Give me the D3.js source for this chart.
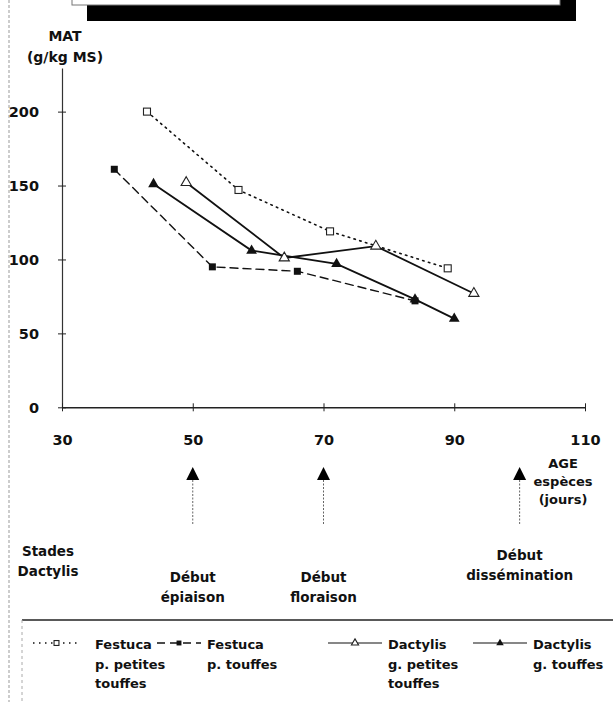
<!DOCTYPE html>
<html><head><meta charset="utf-8">
<script src="https://cdn.jsdelivr.net/npm/d3@7"></script>
<style>
html,body{margin:0;padding:0;background:#fff;}
svg text{font-family:"DejaVu Sans",sans-serif;font-weight:bold;fill:#111;}
</style></head>
<body><svg id="c" width="613" height="702"></svg>
<script>
// ---- data ----
const xTicks = [30, 50, 70, 90, 110];
const yTicks = [0, 50, 100, 150, 200];
const festucaPetitesAge = [43, 57, 71, 89];
const festucaPetitesMAT = [200, 147, 119, 94];
const festucaTouffesAge = [38, 53, 66, 84];
const festucaTouffesMAT = [161, 95, 92, 72];
const dactylisPetitesAge = [49, 64, 78, 93];
const dactylisPetitesMAT = [152, 101, 109, 77];
const dactylisTouffesAge = [44, 59, 72, 84, 90];
const dactylisTouffesMAT = [151, 106, 97, 73, 60];
const seriesNames = [["Festuca","p. petites","touffes"],["Festuca","p. touffes"],["Dactylis","g. petites","touffes"],["Dactylis","g. touffes"]];
const stageAges = [50, 70, 100];
const stageLabels = [["Début","épiaison"],["Début","floraison"],["Début","dissémination"]];
const yTitle = ["MAT","(g/kg MS)"];
const xTitle = ["AGE","espèces","(jours)"];
const stageTitle = ["Stades","Dactylis"];

// ---- build ----
const svg = d3.select("#c");
const x = d3.scaleLinear().domain([30,110]).range([62,585]);
const y = d3.scaleLinear().domain([0,229.5]).range([407.3,68]);

// page edge dotted line
svg.append("line").attr("x1",9).attr("x2",9).attr("y1",0).attr("y2",702)
  .attr("stroke","#999").attr("stroke-width",1).attr("stroke-dasharray","3,2");

// top box with shadow
svg.append("rect").attr("x",87).attr("y",-10).attr("width",489).attr("height",31).attr("fill","#000");
svg.append("rect").attr("x",72).attr("y",-10).attr("width",488).attr("height",15).attr("fill","#fff").attr("stroke","#777").attr("stroke-width",1);

// y title
yTitle.forEach((t,i)=>svg.append("text").attr("x",65).attr("y",41+i*21).attr("text-anchor","middle").attr("font-size",14).text(t));

// axes
const ya = svg.append("g").attr("transform",`translate(${x(30)},0)`)
  .call(d3.axisLeft(y).tickValues(yTicks).tickSize(4).tickSizeOuter(0).tickPadding(19));
ya.selectAll(".tick line").attr("x1",-4).attr("x2",4).attr("stroke","#222");
ya.select(".domain").attr("stroke","#333").attr("stroke-width",1.2);
ya.selectAll(".tick text").attr("font-size",14.5).attr("font-family","DejaVu Sans").attr("font-weight","bold").attr("fill","#111").attr("dy","0.36em");

const xa = svg.append("g").attr("transform",`translate(0,${y(0)})`)
  .call(d3.axisBottom(x).tickValues(xTicks).tickSize(4).tickSizeOuter(0).tickPadding(23));
xa.selectAll(".tick line").attr("y1",-4).attr("y2",4).attr("stroke","#222");
xa.select(".domain").attr("stroke","#222").attr("stroke-width",1.5);
xa.selectAll(".tick text").attr("font-size",14.5).attr("font-family","DejaVu Sans").attr("font-weight","bold").attr("fill","#111");

// series
const series = [
  {age:festucaPetitesAge, mat:festucaPetitesMAT, dash:"1.5,4.5", w:1.6, marker:"sqOpen"},
  {age:festucaTouffesAge, mat:festucaTouffesMAT, dash:"8,5", w:1.4, marker:"sqFill"},
  {age:dactylisPetitesAge, mat:dactylisPetitesMAT, dash:null, w:1.8, marker:"triOpen"},
  {age:dactylisTouffesAge, mat:dactylisTouffesMAT, dash:null, w:1.8, marker:"triFill"}
];
const line = d3.line().x(d=>x(d[0])).y(d=>y(d[1]));
function marker(g, kind, cx, cy, k){
  k = k || 1;
  const h = 3.5*k;
  if(kind==="sqOpen") g.append("rect").attr("x",cx-h).attr("y",cy-h).attr("width",2*h).attr("height",2*h).attr("fill","#fff").attr("stroke","#222").attr("stroke-width",1.1);
  if(kind==="sqFill") g.append("rect").attr("x",cx-h).attr("y",cy-h).attr("width",2*h).attr("height",2*h).attr("fill","#111");
  if(kind==="triOpen") g.append("path").attr("d",d3.symbol(d3.symbolTriangle,45*k*k)()).attr("transform",`translate(${cx},${cy})`).attr("fill","#fff").attr("stroke","#222").attr("stroke-width",1.1);
  if(kind==="triFill") g.append("path").attr("d",d3.symbol(d3.symbolTriangle,50*k*k)()).attr("transform",`translate(${cx},${cy})`).attr("fill","#111");
}
series.forEach(s=>{
  const pts = s.age.map((a,i)=>[a,s.mat[i]]);
  svg.append("path").attr("d",line(pts)).attr("fill","none").attr("stroke","#111")
    .attr("stroke-width",s.w).attr("stroke-dasharray",s.dash).attr("stroke-linecap","round");
});
series.forEach(s=>{
  const g = svg.append("g");
  s.age.forEach((a,i)=>marker(g,s.marker,x(a),y(s.mat[i])));
});

// x title
xTitle.forEach((t,i)=>svg.append("text").attr("x",563).attr("y",468+i*18).attr("text-anchor","middle").attr("font-size",13).text(t));

// stage arrows
stageAges.forEach((a,i)=>{
  const cx = x(a);
  svg.append("path").attr("d",`M${cx},467L${cx+6.5},480L${cx-6.5},480Z`).attr("fill","#000");
  svg.append("line").attr("x1",cx).attr("x2",cx).attr("y1",480).attr("y2",525)
    .attr("stroke","#666").attr("stroke-width",1).attr("stroke-dasharray","2,1.5");
  const top = i===2 ? 560 : 582;
  stageLabels[i].forEach((t,j)=>svg.append("text").attr("x",cx).attr("y",top+j*20).attr("text-anchor","middle").attr("font-size",13.5).text(t));
});
stageTitle.forEach((t,i)=>svg.append("text").attr("x",48).attr("y",556+i*20).attr("text-anchor","middle").attr("font-size",13.5).text(t));

// legend
svg.append("line").attr("x1",22).attr("x2",613).attr("y1",620).attr("y2",620).attr("stroke","#222").attr("stroke-width",1.3);
svg.append("line").attr("x1",22).attr("x2",22).attr("y1",620).attr("y2",702).attr("stroke","#aaa").attr("stroke-width",1).attr("stroke-dasharray","3,3");
const legX = [33, 157, 328, 473];
const legW = [47, 44, 54, 54];
const legTextX = [95, 207, 388, 533];
series.forEach((s,i)=>{
  const ly = 643;
  svg.append("line").attr("x1",legX[i]).attr("x2",legX[i]+legW[i]).attr("y1",ly).attr("y2",ly)
    .attr("stroke","#111").attr("stroke-width",s.dash? 1.4:1.2).attr("stroke-dasharray",s.dash);
  marker(svg.append("g"), s.marker, legX[i]+legW[i]/2, ly, 0.7);
  seriesNames[i].forEach((t,j)=>svg.append("text").attr("x",legTextX[i]).attr("y",649+j*19.5).attr("font-size",13).text(t));
});
</script></body></html>
